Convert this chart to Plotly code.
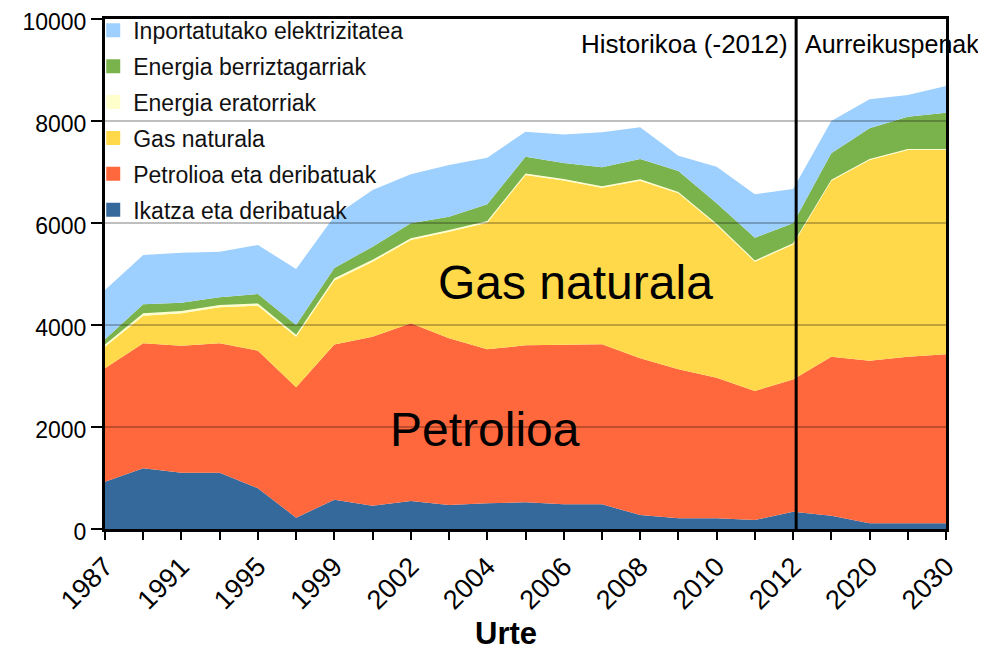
import plotly.graph_objects as go

# urteak (kategoriak)
urteak = ['1987', '1989', '1991', '1993', '1995', '1997', '1999', '2001', '2002',
          '2003', '2004', '2005', '2006', '2007', '2008', '2009', '2010', '2011',
          '2012', '2015', '2020', '2025', '2030']
etiketak = ['1987', '', '1991', '', '1995', '', '1999', '', '2002', '', '2004', '',
            '2006', '', '2008', '', '2010', '', '2012', '', '2020', '', '2030']

# ktep
ikatza = [928, 1190, 1105, 1105, 797, 222, 575, 458, 549, 471, 503, 523, 484, 484,
          275, 209, 209, 176, 340, 261, 111, 111, 111]
petrolioa = [2222, 2450, 2490, 2535, 2700, 2556, 3045, 3313, 3484, 3268, 3020, 3078,
             3131, 3137, 3071, 2922, 2758, 2530, 2590, 3118, 3190, 3268, 3314]
gasa = [425, 543, 634, 706, 882, 993, 1255, 1471, 1634, 2091, 2484, 3340, 3218, 3072,
        3484, 3451, 2994, 2536, 2650, 3451, 3934, 4052, 4006]
eratorriak = [45, 45, 45, 45, 45, 40, 40, 35, 35, 35, 30, 30, 30, 30, 30, 25, 25, 25,
              25, 20, 20, 20, 20]
berriztagarriak = [99, 177, 164, 151, 184, 189, 205, 259, 291, 259, 329, 330, 314, 369,
                   395, 413, 400, 445, 388, 516, 601, 634, 712]
inportatua = [967, 968, 980, 896, 961, 1098, 1010, 1111, 961, 1013, 915, 490, 558, 686,
              621, 300, 719, 850, 672, 634, 569, 425, 523]

seriak = [
    ('Ikatza eta deribatuak', ikatza, '#35699c'),
    ('Petrolioa eta deribatuak', petrolioa, '#ff673d'),
    ('Gas naturala', gasa, '#ffd94a'),
    ('Energia eratorriak', eratorriak, '#ffffcc'),
    ('Energia berriztagarriak', berriztagarriak, '#7ab24c'),
    ('Inportatutako elektrizitatea', inportatua, '#9dd0ff'),
]

FONT = 'Liberation Sans, Arial, sans-serif'

fig = go.Figure()
for izena, balioak, kolorea in seriak:
    fig.add_trace(go.Scatter(x=urteak, y=balioak, name=izena, mode='none',
                             stackgroup='one', fillcolor=kolorea,
                             showlegend=False, hoverinfo='x+y+name'))

# legenda: goitik behera
for i, (izena, balioak, kolorea) in enumerate(reversed(seriak)):
    fig.add_trace(go.Scatter(x=[None], y=[None], name=izena, mode='markers',
                             marker=dict(symbol='square', size=14, color=kolorea),
                             legendgroup='g%d' % i, showlegend=True))

# saretako lerroak areen gainean
for y in [2000, 4000, 6000, 8000]:
    fig.add_shape(type='line', xref='paper', yref='y', x0=0, x1=1, y0=y, y1=y,
                  line=dict(color='rgba(0,0,0,0.5)', width=1), layer='above')

# historikoa / aurreikuspenak muga
fig.add_shape(type='line', xref='x', yref='paper', x0=18.08, x1=18.08, y0=0, y1=1,
              line=dict(color='black', width=3), layer='above')

fig.add_annotation(x=18.08, y=0.951, xref='x', yref='paper', text='Historikoa (-2012)',
                   showarrow=False, xanchor='right', yanchor='middle', xshift=-6,
                   font=dict(size=26, color='black', family=FONT))
fig.add_annotation(x=18.08, y=0.951, xref='x', yref='paper', text='Aurreikuspenak',
                   showarrow=False, xanchor='left', yanchor='middle', xshift=7,
                   font=dict(size=25, color='black', family=FONT))
fig.add_annotation(x=12.3, y=4840, xref='x', yref='y', text='Gas naturala',
                   showarrow=False, font=dict(size=48, color='black', family=FONT))
fig.add_annotation(x=9.95, y=1950, xref='x', yref='y', text='Petrolioa',
                   showarrow=False, font=dict(size=48, color='black', family=FONT))
fig.add_annotation(x=0.477, y=-0.205, xref='paper', yref='paper', text='<b>Urte</b>',
                   showarrow=False, yanchor='middle',
                   font=dict(size=31, color='black', family=FONT))

# orrialdeak 8 px-ko marjina du: irudia horren arabera txikitu
fig.update_layout(
    width=978, height=644,
    margin=dict(l=97, r=40, t=11, b=123, autoexpand=False),
    paper_bgcolor='white', plot_bgcolor='white',
    font=dict(family=FONT, color='black'),
    legend=dict(x=-0.014, y=1.020, xanchor='left', yanchor='top',
                bgcolor='rgba(0,0,0,0)', traceorder='grouped', tracegroupgap=3,
                font=dict(size=23, family=FONT, color='#111111')),
    xaxis=dict(type='category', categoryorder='array', categoryarray=urteak,
               range=[0, len(urteak) - 1], tickmode='array', tickvals=urteak,
               ticktext=etiketak, tickangle=-45, ticks='outside', ticklen=8,
               tickwidth=1.5, tickcolor='black', showgrid=False, showline=True,
               linecolor='black', linewidth=3, mirror=True, zeroline=False,
               automargin=False, ticklabeloverflow='allow',
               tickfont=dict(size=27, family=FONT, color='black')),
    yaxis=dict(range=[0, 10000], dtick=2000, tickformat='d', ticks='outside',
               ticklen=11, tickwidth=1.5, tickcolor='black', showgrid=False,
               showline=True, linecolor='black', linewidth=3, mirror=True,
               zeroline=False, automargin=False, ticklabeloverflow='allow',
               ticklabelshift=3,
               tickfont=dict(size=23, family=FONT, color='black')),
)

fig.write_html('out.html')
